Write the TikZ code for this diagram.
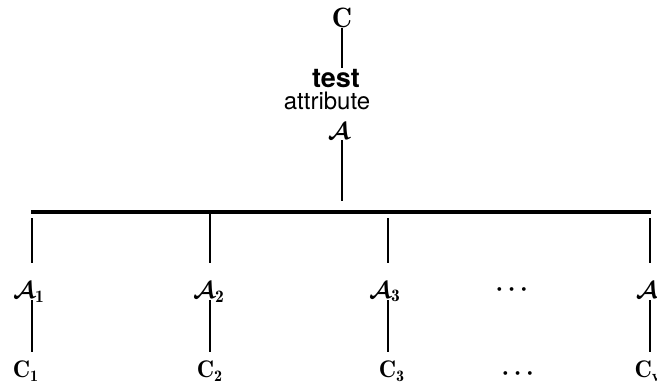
\documentclass[tikz,border=0pt]{standalone}
\usepackage{amsmath}
\usepackage{bm}
\usepackage{fontspec}
\newfontfamily\hel{TeX Gyre Heros}
\begin{document}
\begin{tikzpicture}[x=0.5pt,y=-0.5pt,
  lbl/.style={inner sep=0pt,font=\fontsize{12.5}{14}\selectfont},
  txt/.style={inner sep=0pt,font=\hel\fontsize{12.5}{14}\selectfont},
  thin/.style={line width=0.8pt},
  bar/.style={line width=2pt}]
\useasboundingbox (0,0) rectangle (657,388);
% top part
\node[lbl,font=\fontsize{14}{16}\selectfont] (topC) at (342,18) {$\mathbf{C}$};
\node[txt,font=\hel\bfseries\fontsize{13.5}{15}\selectfont,anchor=base] (test) at (336,87) {test};
\node[txt,font=\hel\fontsize{12}{14}\selectfont,anchor=base] (attr) at (327,109) {attribute};
\node[lbl] (A) at (339,131) {$\bm{\mathcal{A}}$};
\coordinate (t1) at (342,28);
\coordinate (t2) at (342,68);
\coordinate (s1) at (342,140);
\coordinate (s2) at (342,201);
\draw[thin] (t1) -- (t2);
\draw[thin] (s1) -- (s2);
% bar
\coordinate (b1) at (31,212);
\coordinate (b2) at (651,212);
\draw[bar] (b1) -- (b2);
% branches
\foreach \n/\x/\ys/\ax/\cx/\sub in {1/32/218/29/26/1, 2/210/212/209/210/2, 3/388/218/385/392/3, 4/650/218/652/648/v}{
  \coordinate (u\n) at (\x,\ys);
  \coordinate (v\n) at (\x,263);
  \coordinate (w\n) at (\x,300);
  \coordinate (z\n) at (\x,352);
  \node[lbl] (a\n) at (\ax,292) {$\bm{\mathcal{A}}_{\mathbf{\sub}}$};
  \node[lbl,font=\fontsize{12}{14}\selectfont] (c\n) at (\cx,371) {$\mathbf{C}_{\mathbf{\sub}}$};
  \draw[thin] (u\n) -- (v\n);
  \draw[thin] (w\n) -- (z\n);
}
\node[lbl] (d1) at (514,290) {$\bm{\cdots}$};
\node[lbl] (d2) at (520,374) {$\bm{\cdots}$};
\end{tikzpicture}
\end{document}
